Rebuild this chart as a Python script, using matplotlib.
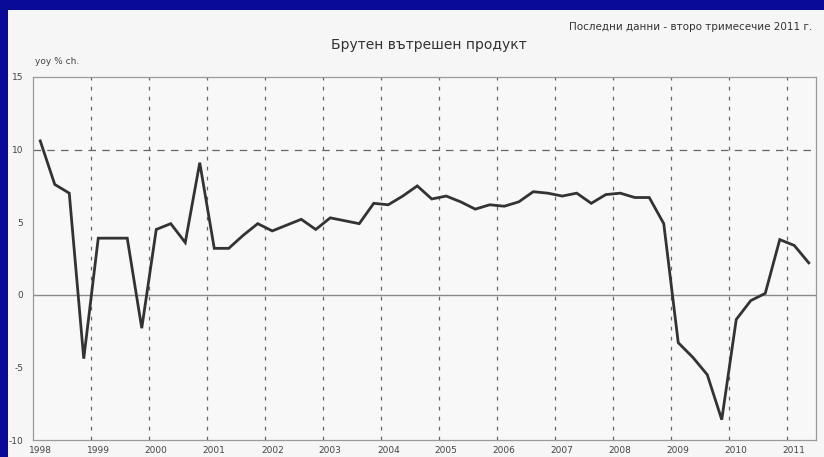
import matplotlib
matplotlib.use("Agg")
import matplotlib.pyplot as plt
from matplotlib.patches import Rectangle

# Quarterly data 1998Q1 .. 2011Q2 (yoy % change)
years = ["1998", "1999", "2000", "2001", "2002", "2003", "2004",
         "2005", "2006", "2007", "2008", "2009", "2010", "2011"]
gdp_yoy = [10.6, 7.6, 7.0, -4.4,
           3.9, 3.9, 3.9, -2.3,
           4.5, 4.9, 3.6, 9.1,
           3.2, 3.2, 4.1, 4.9,
           4.4, 4.8, 5.2, 4.5,
           5.3, 5.1, 4.9, 6.3,
           6.2, 6.8, 7.5, 6.6,
           6.8, 6.4, 5.9, 6.2,
           6.1, 6.4, 7.1, 7.0,
           6.8, 7.0, 6.3, 6.9,
           7.0, 6.7, 6.7, 4.9,
           -3.3, -4.3, -5.5, -8.6,
           -1.7, -0.4, 0.1, 3.8,
           3.4, 2.2]
y_ticks = [-10, -5, 0, 5, 10, 15]

W, H = 824, 457
fig = plt.figure(figsize=(W / 100, H / 100), dpi=100)
fig.patch.set_facecolor("#f6f6f6")

ax = fig.add_axes([33 / W, 1 - 440 / H, (816 - 33) / W, (440 - 77) / H])
ax.set_facecolor("#f8f8f8")

n = len(gdp_yoy)
x = list(range(n))
ax.set_xlim(-0.5, n - 0.5)
ax.set_ylim(-10, 15)

# grid: vertical dashed at year boundaries
for k in range(1, len(years)):
    ax.axvline(4 * k - 0.5, color="#666666", lw=0.9, ls=(0, (3, 5)), zorder=1)
ax.axhline(10, color="#666666", lw=0.9, ls=(0, (6, 5)), zorder=1)
ax.axhline(0, color="#8a8a8a", lw=1.0, zorder=1)

ax.plot(x, gdp_yoy, color="#333333", lw=2.0, zorder=3, solid_joinstyle="miter")

for s in ax.spines.values():
    s.set_color("#9a9a9a")
    s.set_linewidth(0.9)

ax.set_yticks(y_ticks)
ax.set_yticklabels([str(v) for v in y_ticks])
ax.set_xticks([4 * i for i in range(len(years))])
ax.set_xticklabels(years)
ax.tick_params(axis="both", length=0, labelsize=6.5, colors="#444444")
ax.tick_params(axis="y", pad=7)
ax.tick_params(axis="x", pad=4)

fig.text(812 / W, 1 - 27 / H, "Последни данни - второ тримесечие 2011 г.",
         ha="right", va="center", fontsize=7.5, color="#333333")
fig.text(429 / W, 1 - 45 / H, "Брутен вътрешен продукт",
         ha="center", va="center", fontsize=10, color="#333333")
fig.text(35 / W, 1 - 61 / H, "yoy % ch.",
         ha="left", va="center", fontsize=6.5, color="#444444")

# blue slide frame
blue = "#0a0a98"
fig.add_artist(Rectangle((0, 0), 8 / W, 1, transform=fig.transFigure,
                         facecolor=blue, edgecolor="none", zorder=10))
fig.add_artist(Rectangle((0, 1 - 10 / H), 1, 10 / H, transform=fig.transFigure,
                         facecolor=blue, edgecolor="none", zorder=10))

fig.savefig("out.png", dpi=100, facecolor=fig.get_facecolor())
